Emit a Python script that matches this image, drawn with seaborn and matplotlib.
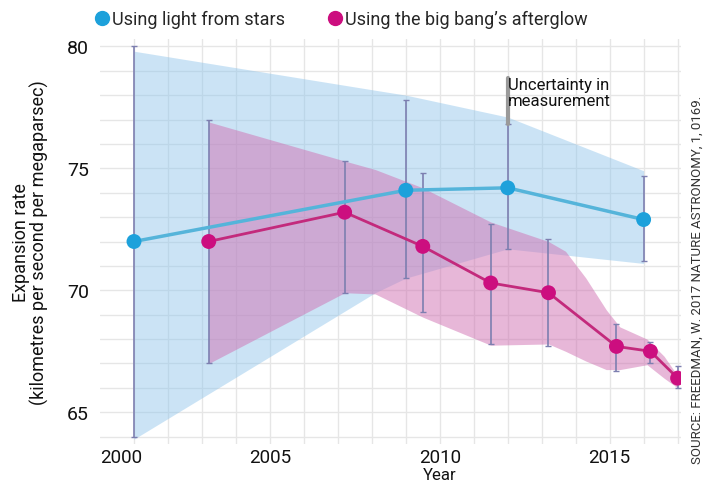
import numpy as np
import pandas as pd
import matplotlib
matplotlib.use("Agg")
import matplotlib.pyplot as plt
from matplotlib.lines import Line2D
import seaborn as sns

star_years = [2001.0, 2009.0, 2012.0, 2016.0]
star_h0 = [72.0, 74.1, 74.2, 72.9]
star_lo = [64.0, 70.5, 71.7, 71.2]
star_hi = [80.0, 77.8, 76.8, 74.7]

cmb_years = [2003.2, 2007.2, 2009.5, 2011.5, 2013.2, 2015.2, 2016.2, 2017.0]
cmb_h0 = [72.0, 73.2, 71.8, 70.3, 69.9, 67.7, 67.5, 66.4]
cmb_lo = [67.0, 69.9, 69.1, 67.8, 67.7, 66.7, 67.0, 66.0]
cmb_hi = [77.0, 75.3, 74.8, 72.7, 72.1, 68.6, 67.9, 66.9]

# shaded uncertainty envelopes
star_band_x = [2001.0, 2008.1, 2009.0, 2012.0, 2016.0]
star_band_hi = [79.8, 78.2, 78.0, 77.1, 74.9]
star_band_lo = [63.9, 69.9, 70.5, 71.7, 71.1]

cmb_band_x = [2003.2, 2007.2, 2008.1, 2009.5, 2011.5, 2013.2, 2013.7,
              2014.3, 2014.9, 2015.3, 2016.1, 2016.6, 2017.0]
cmb_band_hi = [76.9, 75.3, 74.95, 74.2, 72.8, 72.0, 71.6,
               70.5, 69.2, 68.5, 68.0, 67.3, 66.5]
cmb_band_lo = [67.0, 69.9, 69.85, 68.9, 67.75, 67.8, 67.5,
               67.1, 66.75, 66.75, 66.95, 66.4, 66.0]

year_ticks = [2000, 2005, 2010, 2015]
rate_ticks = [65, 70, 75, 80]

BLUE_MARK = "#1da1db"
BLUE_LINE = "#55b4da"
BLUE_FILL = "#8cc3eb"
PINK_MARK = "#cc0e7f"
PINK_LINE = "#c32a7c"
PINK_FILL = "#d070b2"
ERR_COL = "#7d7fb0"
TXT = "#111111"

sns.set_theme(style="white")
plt.rcParams["font.family"] = ["Roboto", "DejaVu Sans"]

stars = pd.DataFrame({"year": star_years, "h0": star_h0})
cmb = pd.DataFrame({"year": cmb_years, "h0": cmb_h0})

fig = plt.figure(figsize=(7.06, 4.85), dpi=100)
ax = fig.add_axes([100 / 706, 40 / 485, 581 / 706, 405 / 485])

# grid
for yr in range(2001, 2018):
    ax.axvline(yr, color="#e6e6e6", lw=1.0, zorder=0)
for v in range(64, 81):
    ax.axhline(v, color="#e6e6e6", lw=1.0, zorder=0)

ax.fill_between(star_band_x, star_band_lo, star_band_hi, color=BLUE_FILL,
                alpha=0.45, lw=0, zorder=1)
ax.fill_between(cmb_band_x, cmb_band_lo, cmb_band_hi, color=PINK_FILL,
                alpha=0.5, lw=0, zorder=1.5)

ax.errorbar(star_years, star_h0,
            yerr=[np.subtract(star_h0, star_lo), np.subtract(star_hi, star_h0)],
            fmt="none", ecolor=ERR_COL, elinewidth=1.2, capsize=2.5, zorder=3)
ax.errorbar(cmb_years, cmb_h0,
            yerr=[np.subtract(cmb_h0, cmb_lo), np.subtract(cmb_hi, cmb_h0)],
            fmt="none", ecolor=ERR_COL, elinewidth=1.2, capsize=2.5, zorder=3)

sns.lineplot(data=stars, x="year", y="h0", color=BLUE_LINE, lw=2.5, ax=ax, zorder=4)
sns.lineplot(data=cmb, x="year", y="h0", color=PINK_LINE, lw=2, ax=ax, zorder=4)
sns.scatterplot(data=stars, x="year", y="h0", color=BLUE_MARK, s=115,
                edgecolor="none", ax=ax, zorder=5)
sns.scatterplot(data=cmb, x="year", y="h0", color=PINK_MARK, s=115,
                edgecolor="none", ax=ax, zorder=5)

# annotation
ax.plot([2012.0, 2012.0], [76.8, 78.7], color="#9a9a9a", lw=3, zorder=3.5)
ax.text(2012.0, 78.1, "Uncertainty in\nmeasurement", fontsize=12,
        color=TXT, ha="left", va="center", linespacing=1.05, zorder=6)

ax.set_xlim(2000.1, 2017.1)
ax.set_ylim(63.7, 80.3)
ax.set_xticks(year_ticks)
ax.set_yticks(rate_ticks)
ax.tick_params(axis="both", length=0, labelsize=14, colors=TXT)
ax.tick_params(axis="x", pad=3, labelsize=13.5)
ax.tick_params(axis="y", pad=8)
ax.set_xticklabels([str(y) for y in year_ticks])
ax.get_xticklabels()[0].set_horizontalalignment("left")
ax.set_xlabel("Year", fontsize=12, color=TXT)
ax.xaxis.set_label_coords(0.585, -0.0575)
ax.set_ylabel("Expansion rate\n(kilometres per second per megaparsec)",
              fontsize=13, color=TXT, linespacing=1.05)
ax.yaxis.set_label_coords(-0.087, 0.5)
for s in ax.spines.values():
    s.set_visible(False)

handles = [Line2D([], [], marker="o", ls="none", color=BLUE_MARK, markersize=10),
           Line2D([], [], marker="o", ls="none", color=PINK_MARK, markersize=10)]
fig.legend(handles, ["Using light from stars", "Using the big bang\u2019s afterglow"],
           loc="center left", bbox_to_anchor=(96 / 706, 1 - 20 / 485), ncol=2,
           frameon=False, fontsize=13, handlelength=0.7, handletextpad=0.2,
           columnspacing=2.4, borderaxespad=0, borderpad=0)

fig.text(697 / 706, 1 - 280 / 485,
         "SOURCE: FREEDMAN, W. 2017 NATURE ASTRONOMY, 1, 0169.",
         rotation=90, fontsize=9.5, color="#333333", ha="center", va="center")

fig.savefig("out.png", dpi=100)
